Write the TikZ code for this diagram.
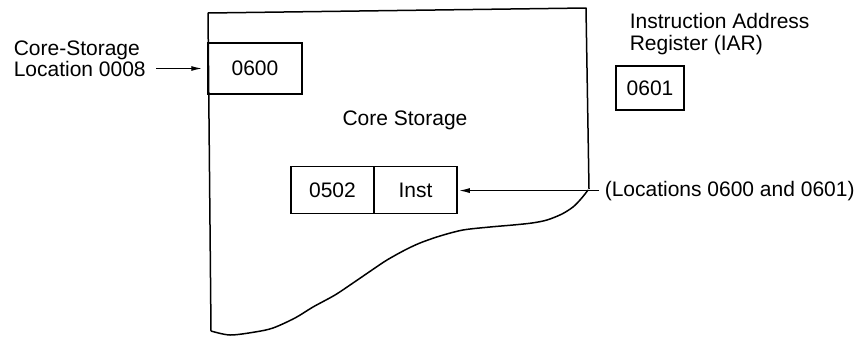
\documentclass[tikz,border=0pt]{standalone}
\usepackage{fontspec}
\setmainfont{Liberation Sans}
\usetikzlibrary{arrows.meta}
\begin{document}
\begin{tikzpicture}[x=1pt,y=-1pt,line width=1.5pt,
  lbl/.style={font=\fontsize{21}{22}\selectfont, inner sep=0pt},
  cell/.style={draw, line width=1.5pt, inner sep=0pt, font=\fontsize{21}{22}\selectfont},
  arr/.style={-{Latex[length=11pt,width=5pt]}, line width=1.3pt}]
\useasboundingbox (0,0) rectangle (856,338);
% core storage outline
\draw[line join=round] (589,189) -- (586,8) -- (208,13) -- (211,331)
  plot[smooth, tension=0.5] coordinates {(211,331) (230,335) (255,332) (273,328) (295,318)
   (313,307) (335,295) (353,283) (372,270) (387,260) (405,250) (420,243) (440,236)
   (463,230) (490,227) (513,225) (532,223) (547,220) (562,214) (573,207) (580,200) (585,194) (588,190)};
% boxes
\node[cell, minimum width=94pt, minimum height=51pt] (b600) at (255,68.5) {0600};
\node[cell, minimum width=83pt, minimum height=47pt] (c502) at (332.5,190) {0502};
\node[cell, minimum width=83pt, minimum height=47pt] (inst) at (415.5,190) {Inst};
\node[cell, minimum width=68pt, minimum height=44pt] (b601) at (650,88) {0601};
% labels
\node[lbl, anchor=base west] (cst) at (13,55) {Core-Storage};
\node[lbl, anchor=base west] (loc) at (13,76) {Location 0008};
\node[lbl, anchor=base] (cs) at (405,125) {Core Storage};
\node[lbl, anchor=base west] (iar1) at (629,28) {Instruction Address};
\node[lbl, anchor=base west] (iar2) at (629,50) {Register (IAR)};
\node[lbl, anchor=base west] (locs) at (604,196) {(Locations 0600 and 0601)};
% arrows
\draw[arr, shorten <=10pt, shorten >=5pt] (loc.east) -- (loc.east -| b600.west);
\draw[arr, shorten <=5pt, shorten >=1pt] (locs.west) -- (locs.west -| inst.east);
\end{tikzpicture}
\end{document}
